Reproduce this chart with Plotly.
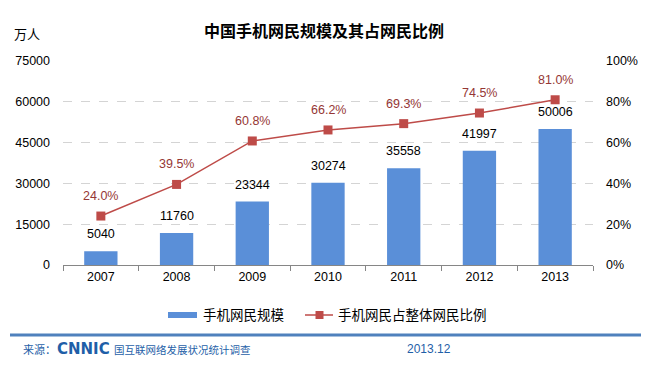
import plotly.graph_objects as go

years = ["2007", "2008", "2009", "2010", "2011", "2012", "2013"]
users = [5040, 11760, 23344, 30274, 35558, 41997, 50006]
share = [24.0, 39.5, 60.8, 66.2, 69.3, 74.5, 81.0]
left_ticks = [0, 15000, 30000, 45000, 60000, 75000]
right_ticks = [0, 20, 40, 60, 80, 100]
bar_name = "手机网民规模"
line_name = "手机网民占整体网民比例"

FONT = "Liberation Sans, Arial, Noto Sans CJK SC"
CJK = "Noto Sans CJK SC"
BAR = "#5A8FD8"
LINE = "#BE4B48"

# the page body adds an 8px offset; compensate so pixel positions match the window
OFF = 8
W, H = 652, 370
PL, PT, PW, PH = 63, 61, 530, 204   # plot area in window pixels
L, T = PL - OFF, PT - OFF
R, B = W - L - PW, H - T - PH


def px(x):
    return (x - PL) / PW


def py(y):
    return (PT + PH - y) / PH


fig = go.Figure()
fig.add_trace(go.Bar(
    x=years, y=users, name=bar_name,
    marker=dict(color=BAR, line=dict(width=0)),
    width=0.44, showlegend=False,
))
fig.add_trace(go.Scatter(
    x=years, y=share, name=line_name, yaxis="y2",
    mode="lines+markers",
    line=dict(color=LINE, width=1.5),
    marker=dict(symbol="square", size=9, color=LINE),
    showlegend=False, cliponaxis=False,
))

# data labels (category index positions on the category axis)
for i, v in enumerate(users):
    fig.add_annotation(x=i, y=v, xref="x", yref="y", text=str(v), showarrow=False,
                       yanchor="bottom", yshift=8,
                       font=dict(size=12.5, family=FONT, color="#000000"))
for i, v in enumerate(share):
    fig.add_annotation(x=i, y=v, xref="x", yref="y2", text=f"{v:.1f}%", showarrow=False,
                       yanchor="bottom", yshift=11,
                       font=dict(size=12.5, family=FONT, color="#953735"))

fig.update_layout(
    width=W, height=H,
    margin=dict(l=L, r=R, t=T, b=B, autoexpand=False),
    paper_bgcolor="white", plot_bgcolor="white",
    showlegend=False,
    xaxis=dict(
        type="category", categoryorder="array", categoryarray=years,
        range=[-0.5, len(years) - 0.5],
        showgrid=False, showline=True, linecolor="#868686",
        ticks="outside", tickson="boundaries", tickcolor="#868686", ticklen=5,
        tickfont=dict(size=12.5, family=FONT, color="#000000"),
    ),
    yaxis=dict(
        range=[0, 75000], tickvals=left_ticks, ticktext=[str(v) for v in left_ticks],
        showgrid=True, gridcolor="#D4D4D4", griddash="dash", gridwidth=1,
        zeroline=False, showline=False, ticklabelstandoff=12,
        tickfont=dict(size=12.5, family=FONT, color="#000000"), ticks="",
    ),
    yaxis2=dict(
        range=[0, 100], overlaying="y", side="right",
        tickvals=right_ticks, ticktext=[f"{v}%" for v in right_ticks],
        showgrid=False, zeroline=False, showline=False, ticklabelstandoff=12,
        tickfont=dict(size=12.5, family=FONT, color="#000000"), ticks="",
    ),
)

# title and unit
fig.add_annotation(text="<b>中国手机网民规模及其占网民比例</b>", xref="paper", yref="paper",
                   x=px(324), y=py(30), showarrow=False, xanchor="center", yanchor="middle",
                   font=dict(size=16, family=CJK, color="#000000"))
fig.add_annotation(text="万人", xref="paper", yref="paper", x=px(27), y=py(33),
                   showarrow=False, xanchor="center", yanchor="middle",
                   font=dict(size=13, family=CJK, color="#000000"))

# custom legend
fig.add_shape(type="rect", xref="paper", yref="paper", x0=px(168), x1=px(197),
              y0=py(318), y1=py(312), line=dict(width=0), fillcolor=BAR)
fig.add_annotation(text=bar_name, xref="paper", yref="paper", x=px(201), y=py(314),
                   showarrow=False, xanchor="left", yanchor="middle",
                   font=dict(size=13.5, family=CJK, color="#000000"))
fig.add_shape(type="line", xref="paper", yref="paper", x0=px(305), x1=px(333),
              y0=py(315), y1=py(315), line=dict(color=LINE, width=1.5))
fig.add_shape(type="rect", xref="paper", yref="paper", x0=px(315.5), x1=px(323.5),
              y0=py(319), y1=py(311), line=dict(width=0), fillcolor=LINE)
fig.add_annotation(text=line_name, xref="paper", yref="paper", x=px(336), y=py(314),
                   showarrow=False, xanchor="left", yanchor="middle",
                   font=dict(size=13.5, family=CJK, color="#000000"))

# footer
fig.add_shape(type="line", xref="paper", yref="paper", x0=px(10), x1=px(641),
              y0=py(335), y1=py(335), line=dict(color="#4F81BD", width=3))
fig.add_annotation(text="来源：", xref="paper", yref="paper", x=px(21), y=py(349),
                   showarrow=False, xanchor="left", yanchor="middle",
                   font=dict(size=11, family=CJK, color="#1F5FA8"))
fig.add_annotation(text="<b>CNNIC</b>", xref="paper", yref="paper", x=px(55), y=py(349),
                   showarrow=False, xanchor="left", yanchor="middle",
                   font=dict(size=15, family="DejaVu Sans", color="#1F5FA8"))
fig.add_annotation(text="国互联网络发展状况统计调查", xref="paper", yref="paper", x=px(112), y=py(349),
                   showarrow=False, xanchor="left", yanchor="middle",
                   font=dict(size=10.5, family=CJK, color="#1F5FA8"))
fig.add_annotation(text="2013.12", xref="paper", yref="paper", x=px(429), y=py(349),
                   showarrow=False, xanchor="center", yanchor="middle",
                   font=dict(size=12, family=FONT, color="#1F5FA8"))

fig.write_html("out.html")
